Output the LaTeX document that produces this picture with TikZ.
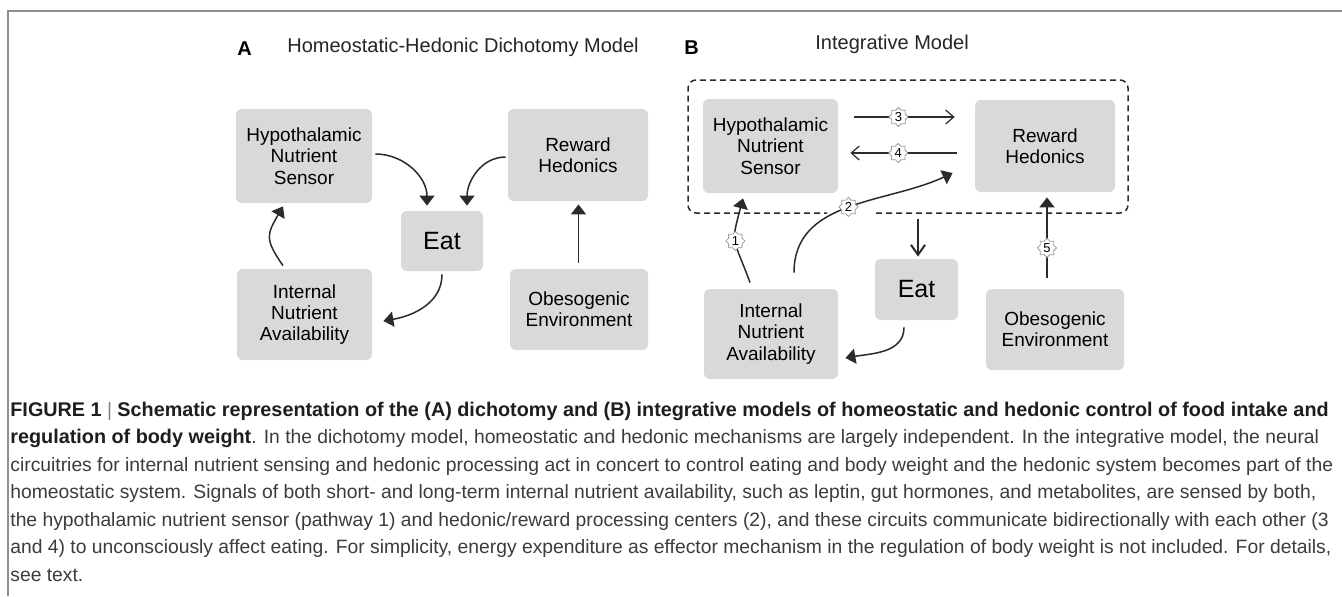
\documentclass[tikz,border=0pt]{standalone}
\usepackage{fontspec}
\setmainfont{Liberation Sans}
\usetikzlibrary{arrows.meta,shapes.geometric,calc}
\definecolor{boxgray}{HTML}{D9D9D9}
\definecolor{linegray}{HTML}{2B2B2B}
\definecolor{framegray}{HTML}{8F8F8F}
\definecolor{captxt}{HTML}{3C3C3C}
\definecolor{capbold}{HTML}{1E1E1E}
\definecolor{titlegray}{HTML}{262626}
\newcommand{\capbf}[1]{{\color{capbold}\bfseries\fontsize{9.9}{11}\selectfont #1}}
\begin{document}
\begin{tikzpicture}[x=0.5pt,y=-0.5pt,
  box/.style={fill=boxgray, rounded corners=3pt, inner sep=0pt, align=center, text=black, font=\fontsize{9.5}{10.65}\selectfont},
  eatbox/.style={box, font=\fontsize{12.5}{14}\selectfont},
  arr/.style={draw=linegray, line width=0.75pt, -{Triangle[length=5pt,width=7.5pt]}},
  openarr/.style={draw=linegray, line width=0.6pt, -{Straight Barb[length=4pt,width=7pt]}},
  eatarr/.style={draw=linegray, line width=1pt, -{Straight Barb[length=5pt,width=7pt]}},
  numstar/.style={star, star points=8, star point ratio=1.3, draw=gray!80, fill=white, line width=0.4pt, inner sep=0pt, minimum size=9.5pt, font=\fontsize{6.5}{7}\selectfont, text=black},
  title/.style={anchor=west, inner sep=0pt, text=titlegray, font=\fontsize{10}{12}\selectfont},
  panel/.style={inner sep=0pt, font=\bfseries\fontsize{10}{12}\selectfont},
  capline/.style={anchor=base west, inner sep=0pt, text=captxt, font=\fontsize{9.65}{11}\selectfont}
]
\useasboundingbox (0,0) rectangle (1342,596);
\fill[white] (0,0) rectangle (1342,596);
\draw[framegray, line width=1pt] (8,596) -- (8,11) -- (1342,11);

% ---------- Panel A ----------
\node[panel] (labA) at (244.5,49) {A};
\node[title] (titA) at (287,47) {Homeostatic-Hedonic Dichotomy Model};

\node[box, minimum width=68pt, minimum height=47pt] (hypA) at (304,156) {Hypothalamic\\Nutrient\\Sensor};
\node[box, minimum width=70pt, minimum height=46pt] (rewA) at (578,155) {Reward\\Hedonics};
\node[eatbox, minimum width=41pt, minimum height=30pt] (eatA) at (442,241) {Eat};
\node[box, minimum width=67.5pt, minimum height=45.5pt] (intA) at (304.5,314.5) {Internal\\Nutrient\\Availability};
\node[box, minimum width=69pt, minimum height=40.5pt] (obeA) at (579,309.5) {Obesogenic\\Environment};

\draw[arr] ($(hypA.east)+(3,-2)$) to[out=0,in=90] ($(eatA.north)+(-15,-5)$);
\draw[arr] ($(rewA.west)+(-2,2)$) to[out=180,in=90] ($(eatA.north)+(25,-5)$);
\draw[arr] ($(intA.north)+(-21.5,-3)$) to[out=125,in=-120,looseness=1.4] ($(hypA.south)+(-21,3)$);
\draw[arr] ($(eatA.south)+(0,3)$) to[out=-90,in=10] ($(intA.east)+(11,6.5)$);
\draw[arr] ($(obeA.north)+(-0.5,-6)$) -- ($(rewA.south)+(0.5,3)$);

% ---------- Panel B ----------
\node[panel] (labB) at (691.5,48) {B};
\node[title] (titB) at (815,44) {Integrative Model};

\draw[linegray, line width=0.75pt, dash pattern=on 3pt off 2pt, rounded corners=4pt]
  (876,213) -- (1128,213) -- (1128,80) -- (688,80) -- (688,213) -- (827,213);

\node[box, minimum width=67.5pt, minimum height=47pt] (hypB) at (770.5,146) {Hypothalamic\\Nutrient\\Sensor};
\node[box, minimum width=70pt, minimum height=46pt] (rewB) at (1045,146) {Reward\\Hedonics};
\node[eatbox, minimum width=41.5pt, minimum height=30.5pt] (eatB) at (916.5,289.5) {Eat};
\node[box, minimum width=67pt, minimum height=45pt] (intB) at (771,334) {Internal\\Nutrient\\Availability};
\node[box, minimum width=69pt, minimum height=40.5pt] (obeB) at (1055,329.5) {Obesogenic\\Environment};

\draw[openarr] ($(hypB.east)+(16,-29)$) -- node[numstar,pos=0.44]{3} ($(rewB.west)+(-20,-29)$);
\draw[openarr] ($(rewB.west)+(-18,7)$) -- node[numstar,pos=0.55]{4} ($(hypB.east)+(12,7)$);
\draw[arr] ($(intB.north)+(-21,-6)$) to[out=110,in=-105,looseness=1.5] node[numstar,pos=0.5]{1} ($(hypB.south)+(-27.5,5)$);
\draw[arr] ($(intB.north)+(23,-16)$) to[out=90,in=205] node[numstar,pos=0.5]{2} ($(rewB.west)+(-22,27)$);
\coordinate (sysout) at (918,219);
\draw[eatarr] (sysout) -- ($(eatB.north)+(1.5,-2)$);
\draw[arr] ($(eatB.south)+(-12.5,7)$) to[out=-90,in=10] ($(intB.east)+(7,24)$);
\draw[arr] ($(obeB.north)+(-8,-11)$) -- node[numstar,pos=0.37]{5} ($(rewB.south)+(2,5)$);

% ---------- Caption ----------
\node[capline] (c1) at (10,416) {\capbf{FIGURE 1} {\color{gray}|} \capbf{Schematic representation of the (A) dichotomy and (B) integrative models of homeostatic and hedonic control of food intake and}};
\node[capline] (c2) at (10,443.5) {\capbf{regulation of body weight}. In the dichotomy model, homeostatic and hedonic mechanisms are largely independent. In the integrative model, the neural};
\node[capline] (c3) at (10,471) {circuitries for internal nutrient sensing and hedonic processing act in concert to control eating and body weight and the hedonic system becomes part of the};
\node[capline] (c4) at (10,498.5) {homeostatic system. Signals of both short- and long-term internal nutrient availability, such as leptin, gut hormones, and metabolites, are sensed by both,};
\node[capline] (c5) at (10,526) {the hypothalamic nutrient sensor (pathway 1) and hedonic/reward processing centers (2), and these circuits communicate bidirectionally with each other (3};
\node[capline] (c6) at (10,553.5) {and 4) to unconsciously affect eating. For simplicity, energy expenditure as effector mechanism in the regulation of body weight is not included. For details,};
\node[capline] (c7) at (10,581) {see text.};
\end{tikzpicture}
\end{document}
